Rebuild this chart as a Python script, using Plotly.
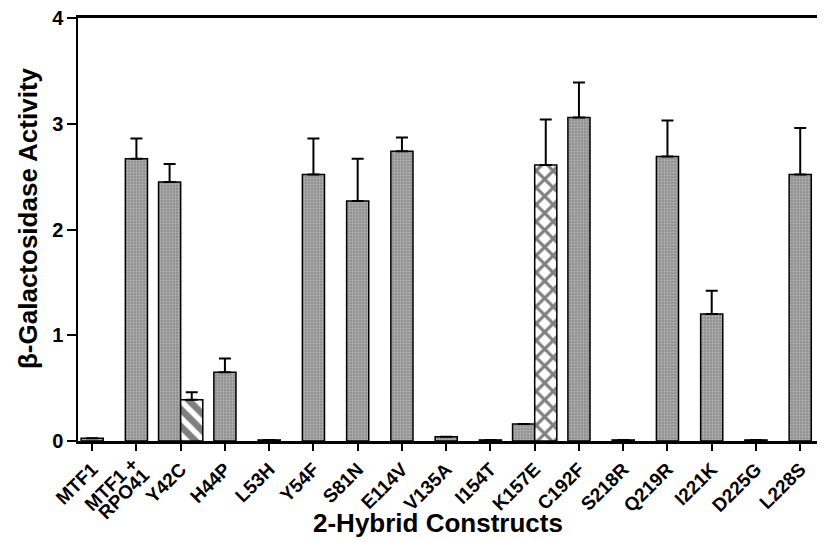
import plotly.graph_objects as go

categories = ["MTF1", "MTF1 +<br>RPO41", "Y42C", "H44P", "L53H", "Y54F", "S81N",
              "E114V", "V135A", "I154T", "K157E", "C192F", "S218R", "Q219R",
              "I221K", "D225G", "L228S"]
gray_values = [0.025, 2.67, 2.45, 0.65, 0.01, 2.52, 2.27, 2.74, 0.04, 0.01,
               0.16, 3.06, 0.01, 2.69, 1.20, 0.01, 2.52]
gray_err = [0, 0.19, 0.17, 0.13, 0, 0.34, 0.40, 0.13, 0, 0,
            0, 0.33, 0, 0.34, 0.22, 0, 0.44]
hatched_category = "Y42C"
hatched_value = 0.39
hatched_err = 0.07
cross_category = "K157E"
cross_value = 2.61
cross_err = 0.43
y_ticks = [0, 1, 2, 3, 4]

FONT = "Liberation Sans, Arial, sans-serif"
xs = list(range(len(categories)))
paired = {categories.index(hatched_category), categories.index(cross_category)}
W = 0.5
offsets = [-W if i in paired else -W / 2 for i in xs]

# multi-line label is drawn as rotated annotations (one per line, tight spacing)
multi = [i for i, c in enumerate(categories) if "<br>" in c]
ticktext = ["" if i in multi else c for i, c in enumerate(categories)]

fig = go.Figure()
fig.add_trace(go.Bar(
    x=xs, y=gray_values, width=W, offset=offsets,
    marker=dict(color="#9c9c9c", line=dict(color="black", width=1.5),
                pattern=dict(shape=".", fgcolor="#dadada", bgcolor="#929292",
                             size=3, solidity=0.3)),
    error_y=dict(type="data", array=gray_err, arrayminus=[0] * len(gray_err),
                 symmetric=False, color="black", thickness=2, width=6),
    showlegend=False))
fig.add_trace(go.Bar(
    x=[categories.index(hatched_category)], y=[hatched_value], width=W, offset=0,
    marker=dict(color="white", line=dict(color="black", width=1.5),
                pattern=dict(shape="\\", fgcolor="black", bgcolor="white",
                             size=12, solidity=0.55)),
    error_y=dict(type="data", array=[hatched_err], arrayminus=[0], symmetric=False,
                 color="black", thickness=2, width=6),
    showlegend=False))
fig.add_trace(go.Bar(
    x=[categories.index(cross_category)], y=[cross_value], width=W, offset=0,
    marker=dict(color="white", line=dict(color="black", width=1.5),
                pattern=dict(shape="x", fgcolor="black", bgcolor="white",
                             size=12, solidity=0.45)),
    error_y=dict(type="data", array=[cross_err], arrayminus=[0], symmetric=False,
                 color="black", thickness=2, width=6),
    showlegend=False))

# page body has an 8px margin, so the figure is shifted; compensate here
PAD = 8
L, T, R_EDGE, BOTTOM = 78 - PAD, 18 - PAD, 825 - PAD, 441 - PAD
FIG_W, FIG_H = 825 - PAD, 542 - PAD
plot_w = R_EDGE - L
plot_h = BOTTOM - T
XR = [-0.32, 16.56]
unit = plot_w / (XR[1] - XR[0])

annotations = [
    dict(text="2-Hybrid Constructs", xref="paper", yref="paper",
         x=(438 - 78) / plot_w, y=(441 - 523) / plot_h, xanchor="center",
         yanchor="middle", showarrow=False,
         font=dict(size=26, family=FONT, weight="bold")),
    dict(text="β-Galactosidase Activity", xref="paper", yref="paper",
         x=(28 - 78) / plot_w, y=(441 - 218) / plot_h, xanchor="center",
         yanchor="middle", textangle=-90, showarrow=False,
         font=dict(size=26, family=FONT, weight="bold")),
]
line_shift = [(-25.5, 43), (-12.5, 52)]  # pixel offsets of each line centre from tick/axis
for i in multi:
    for (dx, dy), part in zip(line_shift, categories[i].split("<br>")):
        annotations.append(dict(
            text=part, xref="x", yref="paper", x=i + dx / unit,
            y=-dy / plot_h, xanchor="center", yanchor="middle",
            textangle=-45, showarrow=False,
            font=dict(size=19, family=FONT, weight="bold")))

fig.update_layout(
    width=FIG_W, height=FIG_H,
    margin=dict(l=L, r=FIG_W - R_EDGE, t=T, b=FIG_H - BOTTOM),
    plot_bgcolor="white", paper_bgcolor="white",
    barmode="overlay",
    font=dict(family=FONT, color="black"),
    xaxis=dict(
        range=XR, tickmode="array", tickvals=xs, ticktext=ticktext,
        tickangle=-45, ticks="outside", ticklen=7, tickwidth=1.5, tickcolor="black",
        tickfont=dict(size=19, family=FONT, weight="bold"),
        ticklabeloverflow="allow",
        showline=True, linewidth=2.5, linecolor="black", mirror=True,
        showgrid=False, zeroline=False, automargin=False),
    yaxis=dict(
        range=[0, 4], tickmode="array", tickvals=y_ticks,
        ticks="outside", ticklen=9, tickwidth=1.5, tickcolor="black",
        tickfont=dict(size=20, family=FONT, weight="bold"),
        ticklabeloverflow="allow",
        showline=True, linewidth=1.5, linecolor="black",
        showgrid=False, zeroline=False, automargin=False),
    annotations=annotations,
)

fig.write_html("out.html")
